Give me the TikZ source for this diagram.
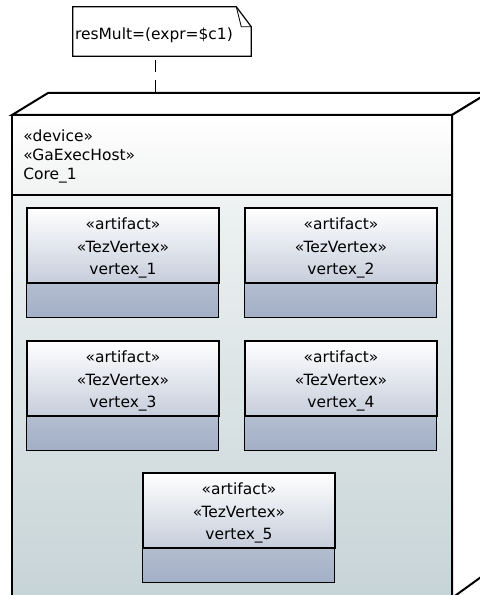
\documentclass[tikz,border=0pt]{standalone}
\usepackage{fontspec}
\setmainfont{DejaVu Sans}
\definecolor{headbot}{HTML}{F1F2F2}
\definecolor{bodytop}{HTML}{EEF2F2}
\definecolor{bodybot}{HTML}{C7D4D7}
\definecolor{arttop}{HTML}{FFFFFF}
\definecolor{artmid}{HTML}{C6CDDB}
\definecolor{slottop}{HTML}{B3BDD0}
\definecolor{slotbot}{HTML}{A2AFC6}
\tikzset{
  cubeline/.style={line width=1.5pt,line join=miter},
  artbox/.style={draw=black,line width=0.9pt,minimum width=144pt,minimum height=56.25pt,
    inner sep=0pt,top color=arttop,bottom color=artmid},
  arttext/.style={align=center,inner sep=0pt,font=\fontsize{11.6}{16.9}\selectfont},
}
\newcommand{\artslot}[1]{%
  \path[top color=slottop,bottom color=slotbot] (#1.south west) rectangle ++(192,34);
  \draw[draw=black,line width=0.9pt] (#1.south west) rectangle ++(192,34);}
\begin{document}
\begin{tikzpicture}[x=0.75pt,y=-0.75pt,font=\fontsize{11.6}{13}\selectfont]
	\useasboundingbox (0,0) rectangle (479,595);
	% device node (cube)
	\draw[cubeline,fill=white] (12,115) -- (48,93) -- (488,93) -- (452,115) -- cycle;
	\draw[cubeline,fill=white] (452,115) -- (488,93) -- (488,572) -- (452,598) -- cycle;
	\draw[cubeline,top color=white,bottom color=headbot] (12,115) rectangle (452,195);
	\draw[cubeline,top color=bodytop,bottom color=bodybot] (12,195) rectangle (452,598);
	\coordinate (hosttop) at (155,93);
	\node[anchor=west,align=left,inner sep=0pt,font=\fontsize{11.6}{14.25}\selectfont]
		(host) at (23,156) {«device»\\«GaExecHost»\\Core\_1};
	% note
	\node[inner sep=0pt,minimum width=133.5pt,minimum height=36.75pt] (note) at (162,31.5) {};
	\draw[line width=0.9pt,fill=white] (note.north west) -- ([xshift=-11.25pt]note.north east)
		-- ([yshift=-15pt]note.north east) -- (note.south east) -- (note.south west) -- cycle;
	\draw[line width=0.6pt] ([xshift=-11.25pt]note.north east) -- ([xshift=-7.5pt,yshift=-15pt]note.north east)
		-- ([yshift=-15pt]note.north east);
	\node[anchor=west,inner sep=0pt] (notetext) at ([xshift=1.5pt,yshift=-2.6pt]note.west) {resMult=(expr=\$c1)};
	\draw[line width=0.6pt,dash pattern=on 9pt off 6pt,dash phase=12pt] (hosttop |- note.south) -- (hosttop);
	% artifacts
	\node[artbox] (v1) at (123,245.5) {};
	\node[artbox] (v2) at (341,245.5) {};
	\node[artbox] (v3) at (123,378.5) {};
	\node[artbox] (v4) at (341,378.5) {};
	\node[artbox] (v5) at (239,510.5) {};
	\foreach \v in {1,...,5} {
		\artslot{v\v}
		\node[arttext] (v\v t) at ([yshift=-2pt]v\v.center) {«artifact»\\«TezVertex»\\vertex\_\v};
	}
\end{tikzpicture}
\end{document}
